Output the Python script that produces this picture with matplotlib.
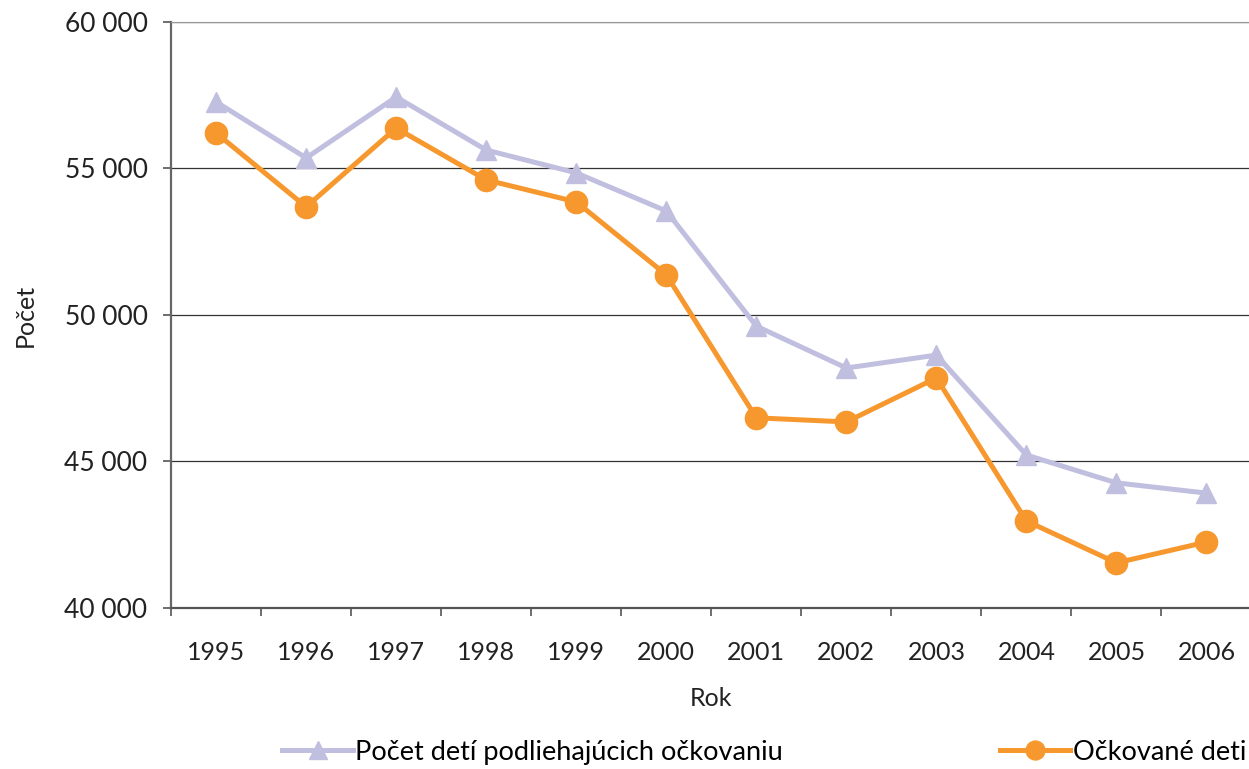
import matplotlib.pyplot as plt
from matplotlib.ticker import FuncFormatter

plt.rcParams['font.family'] = ['Lato', 'DejaVu Sans']

roky = ['1995', '1996', '1997', '1998', '1999', '2000',
        '2001', '2002', '2003', '2004', '2005', '2006']
podliehajuci = [57270, 55360, 57440, 55630, 54850, 53550,
                49620, 48190, 48630, 45220, 44270, 43920]
ockovane = [56210, 53690, 56380, 54610, 53860, 51370,
            46490, 46350, 47850, 42970, 41540, 42250]

fig = plt.figure(figsize=(12.49, 7.69), dpi=100)
ax = fig.add_axes([0.137, 0.2094, 0.865, 0.762])

x = list(range(len(roky)))
ax.plot(x, podliehajuci, color='#c0bfdf', lw=3.6, marker='^', ms=15,
        label='Počet detí podliehajúcich očkovaniu', zorder=3)
ax.plot(x, ockovane, color='#f7982e', lw=3.6, marker='o', ms=16,
        label='Očkované deti', zorder=4)

ax.set_ylim(40000, 60000)
ax.set_yticks([40000, 45000, 50000, 55000, 60000])
ax.yaxis.set_major_formatter(FuncFormatter(lambda v, p: f'{int(v):,}'.replace(',', ' ')))
ax.set_xlim(-0.5, len(roky) - 0.5)
ax.set_xticks([i - 0.5 for i in x])
ax.set_xticklabels([])
ax.set_xticks(x, minor=True)
ax.set_xticklabels(roky, minor=True)
ax.tick_params(axis='x', which='minor', length=0, pad=24, labelsize=18, colors='#222222')
ax.tick_params(axis='x', which='major', length=6, width=1.2, color='#555555')
ax.tick_params(axis='y', length=6, width=1.2, color='#555555', labelsize=19,
               labelcolor='#222222', pad=11)

ax.grid(axis='y', color='#333333', lw=0.9)
ax.set_axisbelow(True)
ax.spines['right'].set_visible(False)
ax.spines['top'].set_color('#999999')
ax.spines['left'].set_color('#666666')
ax.spines['left'].set_linewidth(1.6)
ax.spines['bottom'].set_color('#555555')
ax.spines['bottom'].set_linewidth(1.6)

ax.set_ylabel('Počet', fontsize=18, color='#222222', labelpad=20)
ax.set_xlabel('Rok', fontsize=18, color='#222222', labelpad=16)

fig.legend(loc='center', bbox_to_anchor=(0.612, 0.022), ncol=2, frameon=False,
           fontsize=19.5, handlelength=2.6, handletextpad=0.1, columnspacing=8,
           markerscale=0.85)

fig.savefig('out.png', dpi=100)
